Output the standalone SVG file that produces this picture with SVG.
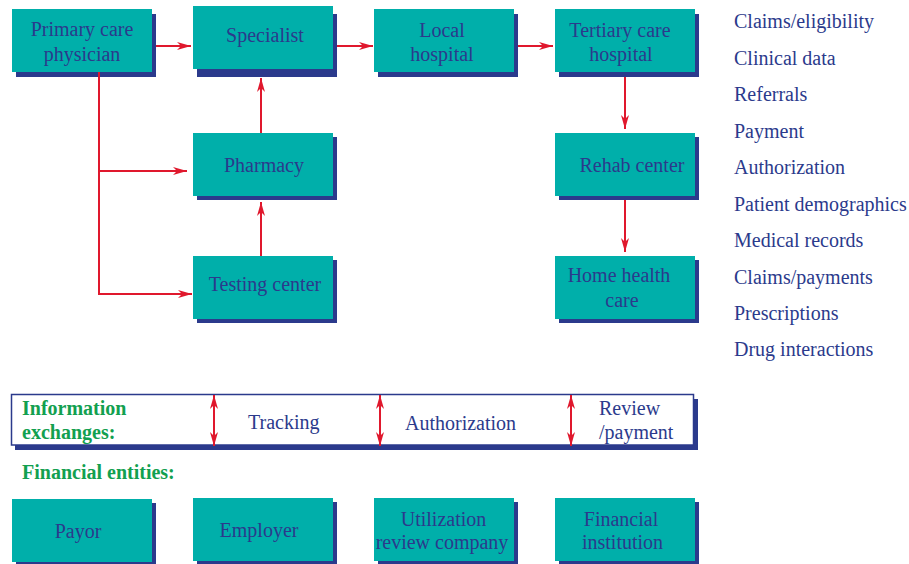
<svg xmlns="http://www.w3.org/2000/svg" width="909" height="564" viewBox="0 0 909 564">
  <defs>
    <marker id="arrow" markerUnits="userSpaceOnUse" markerWidth="16" markerHeight="10" refX="14" refY="4" orient="auto-start-reverse">
      <path d="M0,0 L14,4 L0,8 L4,4 Z" fill="#e0182d"/>
    </marker>
  </defs>
  <style>
    .box { fill: #00afaa; }
    .shadow { fill: #2b3a8c; }
    .lbl { font-family: "Liberation Serif", "Times New Roman", serif; font-size: 20px; fill: #2b3a8c; text-anchor: middle; }
    .list { font-family: "Liberation Serif", "Times New Roman", serif; font-size: 20px; fill: #2b3a8c; }
    .head { font-family: "Liberation Serif", "Times New Roman", serif; font-size: 20px; font-weight: bold; fill: #12a050; }
    .conn { fill: none; stroke: #e0182d; stroke-width: 2; }
  </style>

  <rect width="909" height="564" fill="#ffffff"/>

  <!-- care providers -->
  <g id="primary-care">
    <rect class="shadow" x="16" y="14" width="140" height="63"/>
    <rect class="box" x="12" y="9" width="140" height="63"/>
    <text class="lbl" x="82" y="36">Primary care</text>
    <text class="lbl" x="82" y="61">physician</text>
  </g>
  <g id="specialist">
    <rect class="shadow" x="197" y="14" width="140" height="63"/>
    <rect class="box" x="193" y="6" width="140" height="63"/>
    <text class="lbl" x="265" y="42">Specialist</text>
  </g>
  <g id="local-hospital">
    <rect class="shadow" x="378" y="14" width="140" height="63"/>
    <rect class="box" x="374" y="9" width="140" height="63"/>
    <text class="lbl" x="442" y="37">Local</text>
    <text class="lbl" x="442" y="61">hospital</text>
  </g>
  <g id="tertiary-care">
    <rect class="shadow" x="559" y="14" width="140" height="63"/>
    <rect class="box" x="555" y="9" width="140" height="63"/>
    <text class="lbl" x="620" y="37">Tertiary care</text>
    <text class="lbl" x="621" y="61">hospital</text>
  </g>
  <g id="pharmacy">
    <rect class="shadow" x="197" y="137" width="140" height="63"/>
    <rect class="box" x="193" y="133" width="140" height="63"/>
    <text class="lbl" x="264" y="172">Pharmacy</text>
  </g>
  <g id="rehab-center">
    <rect class="shadow" x="559" y="137" width="140" height="63"/>
    <rect class="box" x="555" y="133" width="140" height="63"/>
    <text class="lbl" x="632" y="172">Rehab center</text>
  </g>
  <g id="testing-center">
    <rect class="shadow" x="197" y="260" width="140" height="63"/>
    <rect class="box" x="193" y="256" width="140" height="63"/>
    <text class="lbl" x="265" y="291">Testing center</text>
  </g>
  <g id="home-health">
    <rect class="shadow" x="559" y="260" width="140" height="63"/>
    <rect class="box" x="555" y="256" width="140" height="63"/>
    <text class="lbl" x="619" y="282">Home health</text>
    <text class="lbl" x="622" y="307">care</text>
  </g>

  <!-- exchanged information types -->
  <g id="info-list">
    <text class="list" x="734" y="28.3">Claims/eligibility</text>
    <text class="list" x="734" y="64.5">Clinical data</text>
    <text class="list" x="734" y="101">Referrals</text>
    <text class="list" x="734" y="137.7">Payment</text>
    <text class="list" x="734" y="174.2">Authorization</text>
    <text class="list" x="734" y="210.5">Patient demographics</text>
    <text class="list" x="734" y="247">Medical records</text>
    <text class="list" x="734" y="283.5">Claims/payments</text>
    <text class="list" x="734" y="319.5">Prescriptions</text>
    <text class="list" x="734" y="356">Drug interactions</text>
  </g>

  <!-- information exchange bar -->
  <g id="info-exchanges">
    <rect class="shadow" x="15" y="399" width="683" height="51"/>
    <rect x="11.5" y="394.5" width="682" height="50.5" fill="#ffffff" stroke="#2b3a8c" stroke-width="1.5"/>
    <text class="head" x="22" y="415">Information</text>
    <text class="head" x="22" y="439">exchanges:</text>
    <text class="list" x="248" y="429">Tracking</text>
    <text class="list" x="405" y="430">Authorization</text>
    <text class="list" x="599" y="415">Review</text>
    <text class="list" x="599" y="439">/payment</text>
  </g>

  <text class="head" x="22" y="479">Financial entities:</text>

  <!-- financial entities -->
  <g id="payor">
    <rect class="shadow" x="16" y="503" width="140" height="63"/>
    <rect class="box" x="12" y="499" width="140" height="63"/>
    <text class="lbl" x="78" y="538">Payor</text>
  </g>
  <g id="employer">
    <rect class="shadow" x="197" y="502" width="140" height="63"/>
    <rect class="box" x="193" y="498" width="140" height="63"/>
    <text class="lbl" x="259" y="537">Employer</text>
  </g>
  <g id="utilization-review">
    <rect class="shadow" x="378" y="502" width="140" height="63"/>
    <rect class="box" x="374" y="498" width="140" height="63"/>
    <text class="lbl" x="443.5" y="526">Utilization</text>
    <text class="lbl" x="442" y="549">review company</text>
  </g>
  <g id="financial-institution">
    <rect class="shadow" x="559" y="502" width="140" height="63"/>
    <rect class="box" x="555" y="498" width="140" height="63"/>
    <text class="lbl" x="621" y="526">Financial</text>
    <text class="lbl" x="622.5" y="549">institution</text>
  </g>

  <!-- referral flows and information exchanges, drawn on top -->
  <g id="connectors">
    <path class="conn" d="M156,46 H191" marker-end="url(#arrow)"/>
    <path class="conn" d="M337,46 H373" marker-end="url(#arrow)"/>
    <path class="conn" d="M518,46 H553" marker-end="url(#arrow)"/>
    <path class="conn" d="M625,77 V129" marker-end="url(#arrow)"/>
    <path class="conn" d="M625,200 V252" marker-end="url(#arrow)"/>
    <path class="conn" d="M261,133 V78" marker-end="url(#arrow)"/>
    <path class="conn" d="M261,256 V202" marker-end="url(#arrow)"/>
    <path class="conn" d="M99,72 V294 H192" marker-end="url(#arrow)"/>
    <path class="conn" d="M99,171 H187" marker-end="url(#arrow)"/>
    <path class="conn" d="M214,395 V446" marker-start="url(#arrow)" marker-end="url(#arrow)"/>
    <path class="conn" d="M380,395 V446" marker-start="url(#arrow)" marker-end="url(#arrow)"/>
    <path class="conn" d="M571,395 V446" marker-start="url(#arrow)" marker-end="url(#arrow)"/>
  </g>
</svg>
